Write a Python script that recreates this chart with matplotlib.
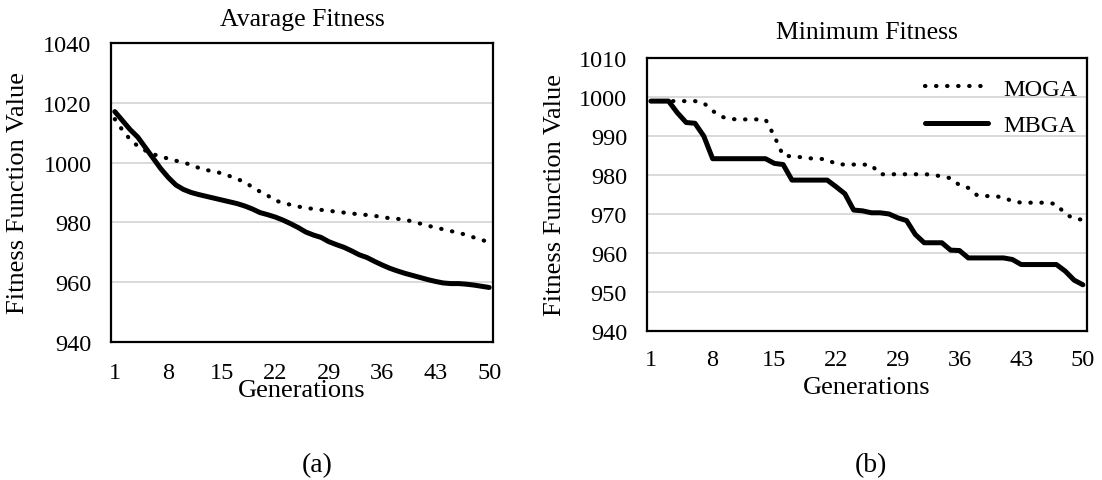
import numpy as np
import matplotlib
matplotlib.use("Agg")
import matplotlib.pyplot as plt

plt.rcParams['font.family'] = ['Liberation Serif', 'DejaVu Serif']

generations = np.arange(1, 51)
x_ticks = [1, 8, 15, 22, 29, 36, 43, 50]

# (a) average fitness
avg_moga = [1014.5, 1010.8, 1007.7, 1005.5, 1004.0, 1002.8, 1002.0, 1001.3, 1000.6, 1000.0,
            999.2, 998.2, 997.5, 997.0, 996.4, 995.5, 994.5, 993.5, 991.8, 990.3,
            989.0, 987.3, 986.6, 985.9, 985.3, 984.9, 984.5, 984.2, 983.9, 983.6,
            983.3, 983.0, 982.7, 982.5, 982.2, 981.8, 981.4, 981.2, 980.9, 980.3,
            979.6, 978.9, 978.3, 977.7, 977.1, 976.6, 975.8, 975.0, 974.2, 973.4]
avg_mbga = [1017.0, 1014.0, 1011.0, 1008.5, 1005.0, 1001.5, 998.0, 995.0, 992.5, 991.0,
            990.0, 989.3, 988.7, 988.1, 987.5, 986.9, 986.3, 985.5, 984.5, 983.3,
            982.6, 981.8, 980.8, 979.6, 978.3, 976.8, 975.8, 975.0, 973.6, 972.6,
            971.7, 970.5, 969.2, 968.3, 967.0, 965.8, 964.7, 963.8, 963.0, 962.3,
            961.6, 960.9, 960.3, 959.8, 959.6, 959.6, 959.4, 959.1, 958.7, 958.3]

# (b) minimum fitness
min_moga = [999.0, 999.0, 999.0, 999.0, 999.0, 999.0, 998.5, 996.5, 995.0, 994.4,
            994.3, 994.3, 994.3, 994.3, 990.0, 985.0, 984.8, 984.6, 984.3, 984.2,
            984.0, 982.8, 982.7, 982.7, 982.7, 982.6, 980.2, 980.2, 980.2, 980.2,
            980.2, 980.2, 980.1, 979.6, 979.2, 977.4, 976.7, 974.8, 974.6, 974.6,
            974.2, 973.3, 972.9, 972.9, 972.9, 972.9, 972.5, 970.0, 968.8, 968.5]
min_mbga = [999.0, 999.0, 999.0, 996.0, 993.5, 993.3, 990.0, 984.2, 984.2, 984.2,
            984.2, 984.2, 984.2, 984.2, 983.0, 982.7, 978.7, 978.7, 978.7, 978.7,
            978.7, 977.0, 975.2, 971.0, 970.8, 970.3, 970.3, 970.0, 969.0, 968.3,
            964.7, 962.6, 962.6, 962.6, 960.7, 960.6, 958.7, 958.7, 958.7, 958.7,
            958.7, 958.3, 957.0, 957.0, 957.0, 957.0, 957.0, 955.3, 953.0, 951.8]

W, H = 1102, 481


def px_axes(fig, left, top, right, bottom):
    return fig.add_axes([left / W, 1 - bottom / H, (right - left) / W, (bottom - top) / H])


def style_axes(ax, ylim, ystep, tick_pad):
    ax.set_xlim(0.5, 50.5)
    ax.set_ylim(*ylim)
    ax.set_xticks(x_ticks)
    ax.set_yticks(np.arange(ylim[0], ylim[1] + 1, ystep))
    ax.tick_params(length=0, labelsize=17.5)
    ax.tick_params(axis='x', pad=tick_pad)
    ax.tick_params(axis='y', pad=14)
    ax.grid(axis='y', color='#d9d9d9', lw=1.4)
    ax.set_axisbelow(True)
    for sp in ax.spines.values():
        sp.set_linewidth(1.6)
        sp.set_color('black')


def draw_lines(ax, moga, mbga):
    ax.plot(generations, moga, color='black', lw=3.0, dashes=(0.1, 2.55),
            dash_capstyle='round', label='MOGA')
    ax.plot(generations, mbga, color='black', lw=3.6, solid_capstyle='round',
            solid_joinstyle='round', label='MBGA')


fig = plt.figure(figsize=(W / 100, H / 100), dpi=100)

ax1 = px_axes(fig, 111, 43.7, 493, 343.3)
style_axes(ax1, (940, 1040), 20, 14)
draw_lines(ax1, avg_moga, avg_mbga)
ax1.text(0.5, 1.079, 'Avarage Fitness', transform=ax1.transAxes,
         ha='center', va='center', fontsize=18.5)
ax1.text(0.5, -0.158, 'Generations', transform=ax1.transAxes,
         ha='center', va='center', fontsize=19)
ax1.text(-0.244, 0.5, 'Fitness Function Value', transform=ax1.transAxes,
         ha='center', va='center', rotation=90, fontsize=19)

ax2 = px_axes(fig, 646.5, 59.3, 1087.3, 331.7)
style_axes(ax2, (940, 1010), 10, 13)
draw_lines(ax2, min_moga, min_mbga)
ax2.text(0.5, 1.0965, 'Minimum Fitness', transform=ax2.transAxes,
         ha='center', va='center', fontsize=18.5)
ax2.text(0.5, -0.205, 'Generations', transform=ax2.transAxes,
         ha='center', va='center', fontsize=19)
ax2.text(-0.208, 0.5, 'Fitness Function Value', transform=ax2.transAxes,
         ha='center', va='center', rotation=90, fontsize=19)
ax2.legend(loc='upper left', bbox_to_anchor=(0.632, 0.928), frameon=False,
           fontsize=17.5, handlelength=2.6, handletextpad=0.62,
           labelspacing=0.58, borderpad=0, borderaxespad=0)

fig.text(317 / W, 1 - 466 / H, '(a)', ha='center', va='center', fontsize=20)
fig.text(871 / W, 1 - 466 / H, '(b)', ha='center', va='center', fontsize=20)

fig.savefig('out.png', dpi=100)
